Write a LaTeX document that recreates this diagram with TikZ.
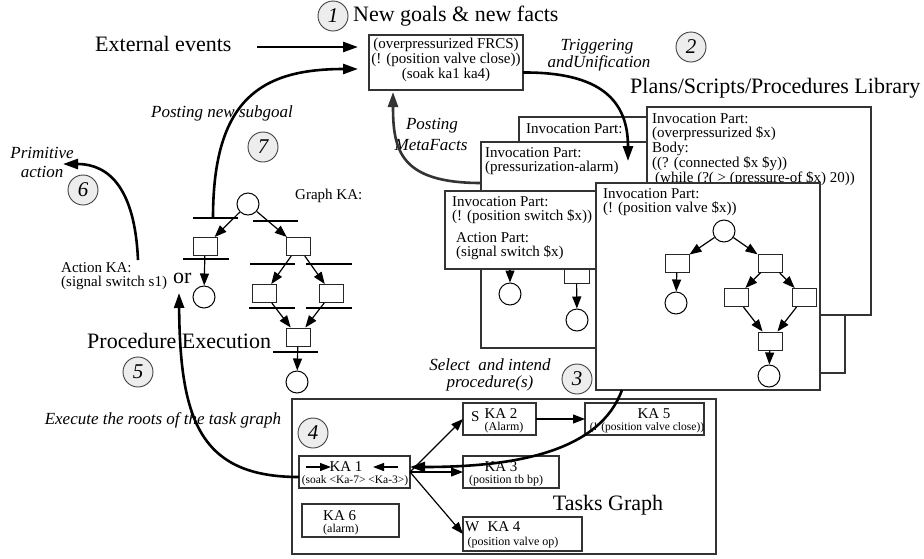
\documentclass[tikz,border=0pt]{standalone}
\usepackage{fontspec}
\setmainfont{Liberation Serif}
\usetikzlibrary{arrows.meta}
\begin{document}
\begin{tikzpicture}[x=1pt,y=-1pt,
  big/.style={font=\fontsize{22}{24}\selectfont, inner sep=0},
  mid/.style={font=\fontsize{15}{15}\selectfont, inner sep=0},
  sml/.style={font=\fontsize{12}{12}\selectfont, inner sep=0},
  tny/.style={font=\fontsize{11.5}{12}\selectfont, inner sep=0},
  lbl/.style={font=\fontsize{17}{18}\selectfont\itshape, inner sep=0},
  num/.style={circle, draw=black!75, fill=black!7, line width=0.9pt, minimum size=30pt, inner sep=0, font=\fontsize{21}{21}\selectfont\itshape},
  card/.style={draw=black!80, fill=white, line width=1.1pt, anchor=north west, inner sep=0, outer sep=0},
  place/.style={circle, draw=black, fill=white, line width=1pt, minimum size=22pt, inner sep=0},
  trans/.style={draw=black!85, fill=white, line width=1pt, minimum width=24pt, minimum height=18pt, inner sep=0},
  bar/.style={line width=2pt},
  thk/.style={line width=2.6pt, -{Triangle[length=15pt,width=10pt]}},
  thn/.style={line width=1.2pt, -{Triangle[length=12pt,width=9pt]}},
]
\useasboundingbox (0,0) rectangle (924,558);
\fill[white] (0,0) rectangle (924,558);

% ---------- top ----------
\node[num] (n1) at (333,16) {1};
\node[big, anchor=west] (goals) at (353,16) {New goals \& new facts};
\node[big, anchor=west] (ext) at (95,44) {External events};
\node[card, minimum width=154pt, minimum height=55pt] (facts) at (369,35) {};
\node[mid] (f1) at (446,45) {(overpressurized FRCS)};
\node[mid] (f2) at (446,60) {(! (position valve close))};
\node[mid] (f3) at (446,75) {(soak ka1 ka4)};
\node[lbl] (trig) at (597,47) {Triggering};
\node[lbl] (unif) at (599,63) {andUnification};
\node[num] (n2) at (691,47) {2};
\node[big, anchor=west] (libt) at (630,88) {Plans/Scripts/Procedures Library};

% ---------- library cards ----------
\node[card, minimum width=301pt, minimum height=183pt] (rear) at (519,117) {};
\node[mid, anchor=west] (reart) at (526,129) {Invocation Part:};
\node[card, minimum width=319pt, minimum height=206pt] (press) at (481,142) {};
\node[mid, anchor=west] (presst1) at (485,153) {Invocation Part:};
\node[mid, anchor=west] (presst2) at (485,168) {(pressurization-alarm)};
\node[place] (pc1) at (510,294) {};
\node[trans, minimum width=25pt, minimum height=14pt] (pr1) at (576.5,276) {};
\node[place] (pc2) at (577,320) {};
\coordinate (pin) at (510,255);
\draw[thn] (pin) -- (pc1);
\draw[thn] (pr1) -- (pc2);
\node[card, minimum width=155pt, minimum height=78pt] (switch) at (445,191) {};
\node[mid, anchor=west] (sw1) at (452,202) {Invocation Part:};
\node[mid, anchor=west] (sw2) at (452,217) {(! (position switch \$x))};
\node[mid, anchor=west] (sw3) at (456,238) {Action Part:};
\node[mid, anchor=west] (sw4) at (456,253) {(signal switch \$x)};
\node[card, minimum width=185pt, minimum height=223pt] (midc) at (660,150) {};
\node[card, minimum width=224pt, minimum height=208pt] (bigc) at (647,107) {};
\node[mid, anchor=west] (b1) at (652,119) {Invocation Part:};
\node[mid, anchor=west] (b2) at (652,134) {(overpressurized \$x)};
\node[mid, anchor=west] (b3) at (652,149) {Body:};
\node[mid, anchor=west] (b4) at (652,164) {((? (connected \$x \$y))};
\node[mid, anchor=west] (b5) at (652,179) {\hspace{3pt}(while (?( > (pressure-of \$x) 20))};
\node[card, minimum width=224pt, minimum height=207pt] (valve) at (596,183) {};
\node[mid, anchor=west] (v1) at (603,194) {Invocation Part:};
\node[mid, anchor=west] (v2) at (603,209) {(! (position valve \$x))};
\node[place] (vtop) at (724,231) {};
\node[trans] (vl) at (677,263) {};
\node[trans] (vr) at (770,263) {};
\node[place] (vlc) at (676,303) {};
\node[trans] (vml) at (736,297.5) {};
\node[trans] (vmr) at (804,297.5) {};
\node[trans] (vb) at (770,341) {};
\node[place] (vbc) at (769,376) {};
\draw[thn] (vtop) -- (vl);
\draw[thn] (vtop) -- (vr);
\draw[thn] (vl) -- (vlc);
\draw[thn] (vr) -- (vml);
\draw[thn] (vr) -- (vmr);
\draw[thn] (vml) -- (vb);
\draw[thn] (vmr) -- (vb);
\draw[thn] (vb) -- (vbc);

% ---------- graph KA ----------
\node[mid, anchor=west] (gka) at (295,196) {Graph KA:};
\node[place] (gtop) at (248,204) {};
\node[trans] (gl) at (205,246.5) {};
\node[trans] (gr) at (298,246.5) {};
\node[place] (glc) at (204,297) {};
\node[trans] (gml) at (264.5,293.5) {};
\node[trans] (gmr) at (331.5,293.5) {};
\node[trans] (gb) at (298,337) {};
\node[place] (gbc) at (297,382) {};
\draw[bar] (193,218) -- (238,218);
\draw[bar] (253,221) -- (298,221);
\draw[bar] (183,259) -- (229,259);
\draw[bar] (250,264) -- (295,264);
\draw[bar] (306,264) -- (352,264);
\draw[bar] (249,308) -- (295,308);
\draw[bar] (306,308) -- (352,308);
\draw[bar] (273,352) -- (318,352);
\draw[thn] (gtop) -- (gl);
\draw[thn] (gtop) -- (gr);
\draw[thn] (gl) -- (glc);
\draw[thn] (gr) -- (gml);
\draw[thn] (gr) -- (gmr);
\draw[thn] (gml) -- (gb);
\draw[thn] (gmr) -- (gb);
\draw[thn] (gb) -- (gbc);

\node[mid, anchor=west] (aka1) at (61,268) {Action KA:};
\node[mid, anchor=west] (aka2) at (61,283) {(signal switch s1)};
\node[big, anchor=west] (or) at (173,278) {or};
\node[big, anchor=west] (pexec) at (87,341) {Procedure Execution};

% ---------- labels and numbers ----------
\node[lbl] (psub) at (222,113) {Posting new subgoal};
\node[num] (n7) at (263,147) {7};
\node[lbl] (prim1) at (42,153) {Primitive};
\node[lbl] (prim2) at (42,172) {action};
\node[num] (n6) at (83,190) {6};
\node[lbl] (pm1) at (432,126) {Posting};
\node[lbl] (pm2) at (431,145) {MetaFacts};
\node[num] (n5) at (138,372) {5};
\node[lbl] (exe) at (163,420) {Execute the roots of the task graph};
\node[lbl] (sel1) at (490,365) {Select\ \ and intend};
\node[lbl] (sel2) at (490,383) {procedure(s)};
\node[num] (n3) at (577,379) {3};

% ---------- tasks graph ----------
\node[card, minimum width=424pt, minimum height=155pt] (tg) at (292,399) {};
\node[num] (n4) at (313,433) {4};
\node[big] (tgt) at (608,505) {Tasks Graph};
\node[card, minimum width=111pt, minimum height=32pt] (ka1) at (299,456) {};
\node[mid] (ka1t) at (346,467) {KA 1};
\node[tny] (ka1s) at (355,481) {(soak <Ka-7> <Ka-3>)};
\coordinate (ka1la) at (306,467);
\coordinate (ka1lb) at (331,467);
\coordinate (ka1ra) at (398,467);
\coordinate (ka1rb) at (373,467);
\draw[line width=1.2pt, -{Triangle[length=11pt,width=8pt]}] (ka1la) -- (ka1lb);
\draw[line width=1.2pt, -{Triangle[length=11pt,width=8pt]}] (ka1ra) -- (ka1rb);
\node[card, minimum width=73pt, minimum height=32pt] (ka2) at (463,403) {};
\node[mid, anchor=west] (ka2s) at (471,417) {S};
\node[mid] (ka2t) at (501,414) {KA 2};
\node[sml] (ka2u) at (504,428) {(Alarm)};
\node[card, minimum width=119pt, minimum height=32pt] (ka5) at (585,403) {};
\node[mid] (ka5t) at (654,414) {KA 5};
\node[tny] (ka5u) at (647,428) {(! (position valve close))};
\node[card, minimum width=96pt, minimum height=32pt] (ka3) at (463,456) {};
\node[mid] (ka3t) at (501,467) {KA 3};
\node[sml] (ka3u) at (506,481) {(position tb bp)};
\node[card, minimum width=119pt, minimum height=34pt] (ka4) at (463,517) {};
\node[mid, anchor=west] (ka4w) at (465,527) {W};
\node[mid] (ka4t) at (504,527) {KA 4};
\node[sml] (ka4u) at (513,543) {(position valve op)};
\node[card, minimum width=97pt, minimum height=33pt] (ka6) at (302,504) {};
\node[mid, anchor=west] (ka6t) at (323,516) {KA 6};
\node[sml, anchor=west] (ka6u) at (323,530) {(alarm)};
\draw[thn] (ka1.east) -- (ka2.west);
\draw[thn] (ka1.east) -- (ka3.west);
\draw[thn] (ka1.east) -- (ka4.west);
\draw[thn] (ka2.east) -- (ka5.west);

% ---------- main arrows ----------
\coordinate (extA) at (257,47);
\coordinate (extB) at (369,47);
\draw[thk, shorten >=11pt] (extA) -- (extB);
\coordinate (sgA) at (213,218);
\coordinate (sgB) at (369,69);
\draw[thk, shorten >=11pt] (sgA) .. controls (213,100) and (260,69) .. (sgB);
\coordinate (trB) at (628,161);
\draw[thk] ([yshift=-10pt]facts.east) .. controls (600,72) and (628,100) .. (trB);
\coordinate (pmA) at (481,183);
\coordinate (pmB) at (393,92);
\draw[thk, draw=black!80] (pmA) .. controls (400,183) and (393,150) .. (pmB);
\coordinate (prA) at (138,260);
\coordinate (prB) at (63,164);
\draw[thk] (prA) .. controls (135,190) and (110,164) .. (prB);
\coordinate (exB) at (179,293);
\draw[thk] ([yshift=-5pt]ka1.west) .. controls (200,477) and (180,420) .. (exB);
\coordinate (ka1in) at (410,467);
\draw[thk] ([xshift=26pt]valve.south west) .. controls (600,450) and (520,467) .. (ka1in);
\end{tikzpicture}
\end{document}
